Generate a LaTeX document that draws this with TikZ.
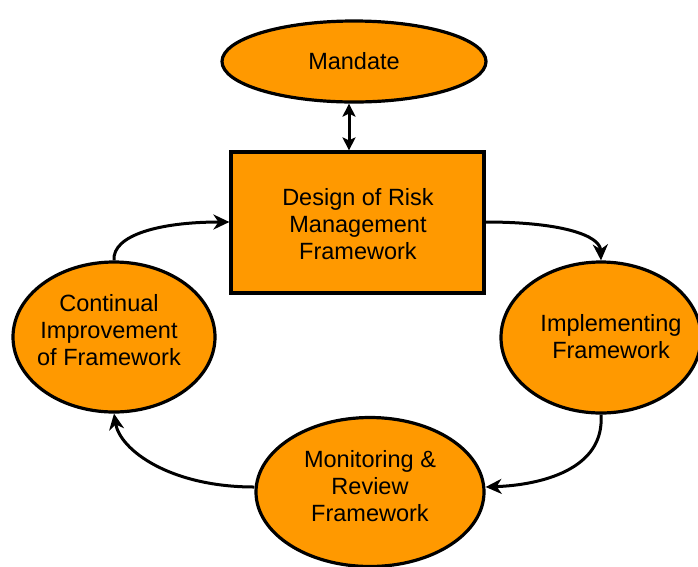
\documentclass[tikz,border=0pt]{standalone}
\usepackage{fontspec}
\setmainfont{Liberation Sans}
\usetikzlibrary{arrows.meta,shapes.geometric}
\definecolor{boxorange}{HTML}{FF9900}
\begin{document}
\begin{tikzpicture}[x=1pt,y=-1pt,
  blob/.style={ellipse,draw=black,fill=boxorange,line width=3.2pt,inner sep=0pt},
  lbl/.style={align=center,font=\fontsize{23.5}{27}\selectfont},
  conn/.style={line width=3pt,-{Stealth[length=16pt,width=15pt,inset=5pt]}}]
\useasboundingbox (0,0) rectangle (698,566);
\begin{scope}
\clip (0,0) rectangle (698,566);
\node[blob,minimum width=264pt,minimum height=81pt] (mandate) at (354,61.5) {};
\node[draw=black,fill=boxorange,line width=3.2pt,minimum width=253pt,minimum height=141pt,inner sep=0pt] (design) at (357.5,222.5) {};
\node[blob,minimum width=202pt,minimum height=150pt] (cont) at (114,337) {};
\node[blob,minimum width=200pt,minimum height=151pt] (impl) at (601,337.5) {};
\node[blob,minimum width=228pt,minimum height=149pt] (mon) at (370,492) {};
\end{scope}
\node[lbl] (tmandate) at (354,61) {Mandate};
\node[lbl] (tdesign) at (358,224) {Design of Risk\\Management\\Framework};
\node[lbl] (tcont) at (109,330) {Continual\\Improvement\\of Framework};
\node[lbl] (timpl) at (611,337) {Implementing\\Framework};
\node[lbl] (tmon) at (370,486) {Monitoring \&\\Review\\Framework};
\draw[line width=3pt,{Stealth[length=13pt,width=13pt,inset=3pt]}-{Stealth[length=13pt,width=13pt,inset=3pt]}] (mandate.south) ++(-5,0) coordinate (ma) -- (ma |- design.north);
\draw[conn] (cont.north) .. controls (112,235) and (160,222) .. (design.west |- 0,222);
\draw[conn] (design.east |- 0,222) .. controls (560,222) and (600,235) .. (impl.north);
\draw[conn] (impl.south) .. controls (605,470) and (540,485) .. (mon.east |- 0,487);
\draw[conn] (mon.west |- 0,487) .. controls (170,487) and (120,450) .. (cont.south);
\end{tikzpicture}
\end{document}
